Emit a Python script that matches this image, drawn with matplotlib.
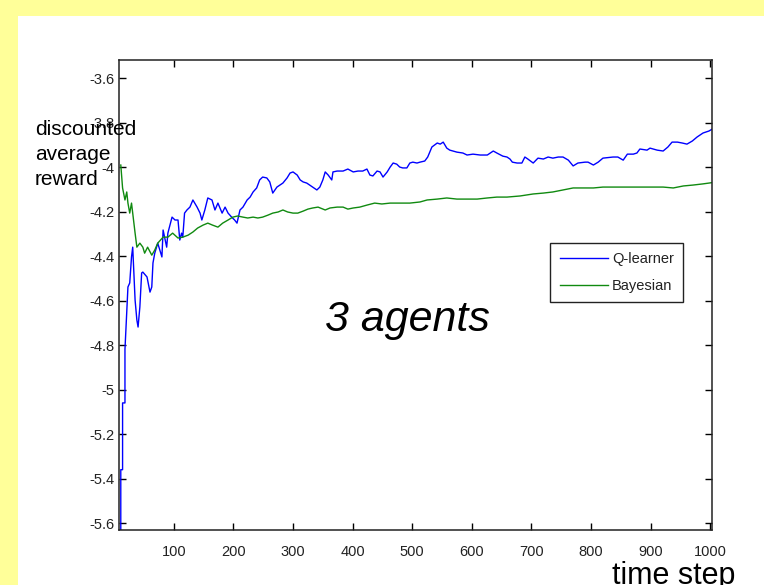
import numpy as np
import matplotlib.pyplot as plt
from matplotlib.patches import Rectangle
from matplotlib.ticker import FuncFormatter

plt.rcParams['font.family'] = ['Liberation Sans', 'DejaVu Sans']

# Q-learner curve
q_steps = [10, 11, 11, 14, 14, 18, 18, 21, 23, 26, 29, 31, 35, 38, 40, 43, 46, 48,
           55, 60, 63, 65, 68, 73, 80, 82, 88, 90, 97, 102, 107, 110, 113, 115, 118,
           122, 127, 132, 139, 144, 147, 152, 157, 164, 169, 174, 181, 186, 191, 197,
           202, 206, 211, 216, 223, 228, 233, 239, 244, 249, 256, 261, 266, 273, 278,
           283, 290, 295, 300, 307, 312, 317, 323, 328, 333, 340, 345, 350, 354, 359,
           365, 367, 374, 384, 392, 401, 409, 417, 424, 429, 434, 441, 446, 451, 458,
           463, 468, 474, 479, 484, 491, 496, 501, 508, 513, 521, 526, 533, 542, 547,
           552, 558, 563, 575, 585, 592, 602, 614, 626, 636, 642, 652, 659, 664, 668,
           676, 684, 689, 694, 703, 711, 720, 728, 736, 745, 753, 762, 770, 778, 790,
           795, 804, 812, 820, 837, 845, 854, 861, 871, 877, 882, 894, 899, 911, 921,
           929, 936, 945, 953, 961, 970, 978, 988, 998, 1003]
q_reward = [-5.70, -5.64, -5.36, -5.36, -5.06, -5.06, -4.82, -4.656, -4.539, -4.521,
            -4.404, -4.360, -4.598, -4.688, -4.719, -4.629, -4.476, -4.472, -4.494,
            -4.562, -4.539, -4.431, -4.387, -4.342, -4.404, -4.283, -4.360, -4.297,
            -4.225, -4.238, -4.238, -4.328, -4.297, -4.315, -4.207, -4.193, -4.180,
            -4.148, -4.180, -4.207, -4.238, -4.193, -4.139, -4.148, -4.193, -4.162,
            -4.207, -4.180, -4.207, -4.225, -4.238, -4.252, -4.193, -4.180, -4.148,
            -4.135, -4.112, -4.094, -4.058, -4.045, -4.049, -4.067, -4.117, -4.090,
            -4.081, -4.072, -4.049, -4.027, -4.022, -4.036, -4.058, -4.067, -4.072,
            -4.081, -4.090, -4.103, -4.090, -4.058, -4.022, -4.036, -4.058, -4.022,
            -4.018, -4.018, -4.009, -4.022, -4.018, -4.018, -4.009, -4.036, -4.040,
            -4.018, -4.022, -4.045, -4.022, -4.000, -3.982, -3.987, -4.000, -4.004,
            -4.004, -3.982, -3.978, -3.982, -3.978, -3.973, -3.955, -3.910, -3.892,
            -3.897, -3.888, -3.915, -3.924, -3.933, -3.937, -3.946, -3.942, -3.946,
            -3.946, -3.928, -3.937, -3.951, -3.955, -3.964, -3.978, -3.982, -3.982,
            -3.955, -3.964, -3.982, -3.960, -3.964, -3.955, -3.960, -3.955, -3.955,
            -3.969, -3.995, -3.982, -3.978, -3.978, -3.991, -3.978, -3.960, -3.955,
            -3.955, -3.969, -3.942, -3.942, -3.937, -3.919, -3.924, -3.915, -3.924,
            -3.928, -3.910, -3.888, -3.888, -3.892, -3.897, -3.883, -3.865, -3.847,
            -3.838, -3.830]

# Bayesian curve
b_steps = [11, 14, 18, 21, 23, 26, 29, 31, 35, 38, 43, 48, 51, 56, 63, 68, 73, 82,
           90, 98, 107, 115, 124, 132, 140, 149, 157, 165, 174, 182, 191, 199, 207,
           216, 224, 233, 241, 249, 258, 266, 275, 283, 291, 300, 308, 317, 325, 333,
           342, 354, 362, 374, 384, 392, 401, 412, 424, 437, 449, 463, 479, 496, 513,
           525, 542, 558, 575, 592, 609, 626, 642, 659, 681, 703, 720, 736, 753, 770,
           787, 804, 820, 837, 861, 882, 904, 921, 938, 955, 971, 987, 998, 1003]
b_reward = [-3.991, -4.094, -4.148, -4.112, -4.162, -4.207, -4.162, -4.207, -4.297,
            -4.360, -4.342, -4.360, -4.387, -4.360, -4.396, -4.373, -4.342, -4.315,
            -4.315, -4.297, -4.319, -4.315, -4.306, -4.292, -4.274, -4.261, -4.252,
            -4.261, -4.270, -4.252, -4.238, -4.225, -4.220, -4.225, -4.229, -4.225,
            -4.229, -4.225, -4.216, -4.207, -4.202, -4.193, -4.202, -4.207, -4.207,
            -4.198, -4.189, -4.184, -4.180, -4.193, -4.184, -4.180, -4.180, -4.189,
            -4.184, -4.180, -4.171, -4.162, -4.166, -4.162, -4.162, -4.162, -4.157,
            -4.148, -4.144, -4.139, -4.144, -4.144, -4.144, -4.139, -4.135, -4.135,
            -4.130, -4.121, -4.117, -4.112, -4.103, -4.094, -4.094, -4.094, -4.090,
            -4.090, -4.090, -4.090, -4.090, -4.090, -4.094, -4.085, -4.081, -4.076,
            -4.072, -4.070]

x_ticks = [100, 200, 300, 400, 500, 600, 700, 800, 900, 1000]
y_ticks = [-5.6, -5.4, -5.2, -5.0, -4.8, -4.6, -4.4, -4.2, -4.0, -3.8, -3.6]

fig = plt.figure(figsize=(7.64, 5.85), dpi=100, facecolor='#ffff99')
# white sheet behind the plot
fig.patches.append(Rectangle((18 / 764, 0), 1, 1 - 16 / 585, transform=fig.transFigure,
                             facecolor='white', edgecolor='none', zorder=-10))

ax = fig.add_axes([119 / 764, 1 - 530 / 585, 593 / 764, 470 / 585])
ax.set_zorder(1)
ax.plot(q_steps, q_reward, color='#0000ff', lw=1.0, label='Q-learner')
ax.plot(b_steps, b_reward, color='#108a10', lw=1.0, label='Bayesian')

ax.set_xlim(8, 1003)
ax.set_ylim(-5.631, -3.519)
ax.set_xticks(x_ticks)
ax.set_yticks(y_ticks)
ax.yaxis.set_major_formatter(FuncFormatter(lambda v, p: '%g' % v))
ax.tick_params(direction='in', length=5, width=1, top=True, right=True,
               labelsize=10.5, labelcolor='#222222')
ax.tick_params(axis='x', pad=11)
ax.tick_params(axis='y', pad=3)
for s in ax.spines.values():
    s.set_linewidth(1.1)
    s.set_color('#222222')

leg = ax.legend(loc='upper left', bbox_to_anchor=(0.727, 0.611), borderaxespad=0,
                fancybox=False, edgecolor='#222222', framealpha=1, fontsize=10.5,
                handlelength=3.3, labelspacing=0.85, borderpad=0.65, handletextpad=0.3)
leg.get_frame().set_linewidth(1.0)
for t in leg.get_texts():
    t.set_color('#222222')

fig.text(35 / 764, 1 - 120 / 585, 'discounted\naverage\nreward', fontsize=15,
         ha='left', va='top', linespacing=1.4, zorder=5)
fig.text(325 / 764, 1 - 331 / 585, '3 agents', fontsize=31, style='italic',
         ha='left', va='baseline', zorder=5)
fig.text(612 / 764, 1 - 584 / 585, 'time step', fontsize=22, ha='left',
         va='baseline', zorder=5)

fig.savefig('out.png', dpi=100, facecolor=fig.get_facecolor())
